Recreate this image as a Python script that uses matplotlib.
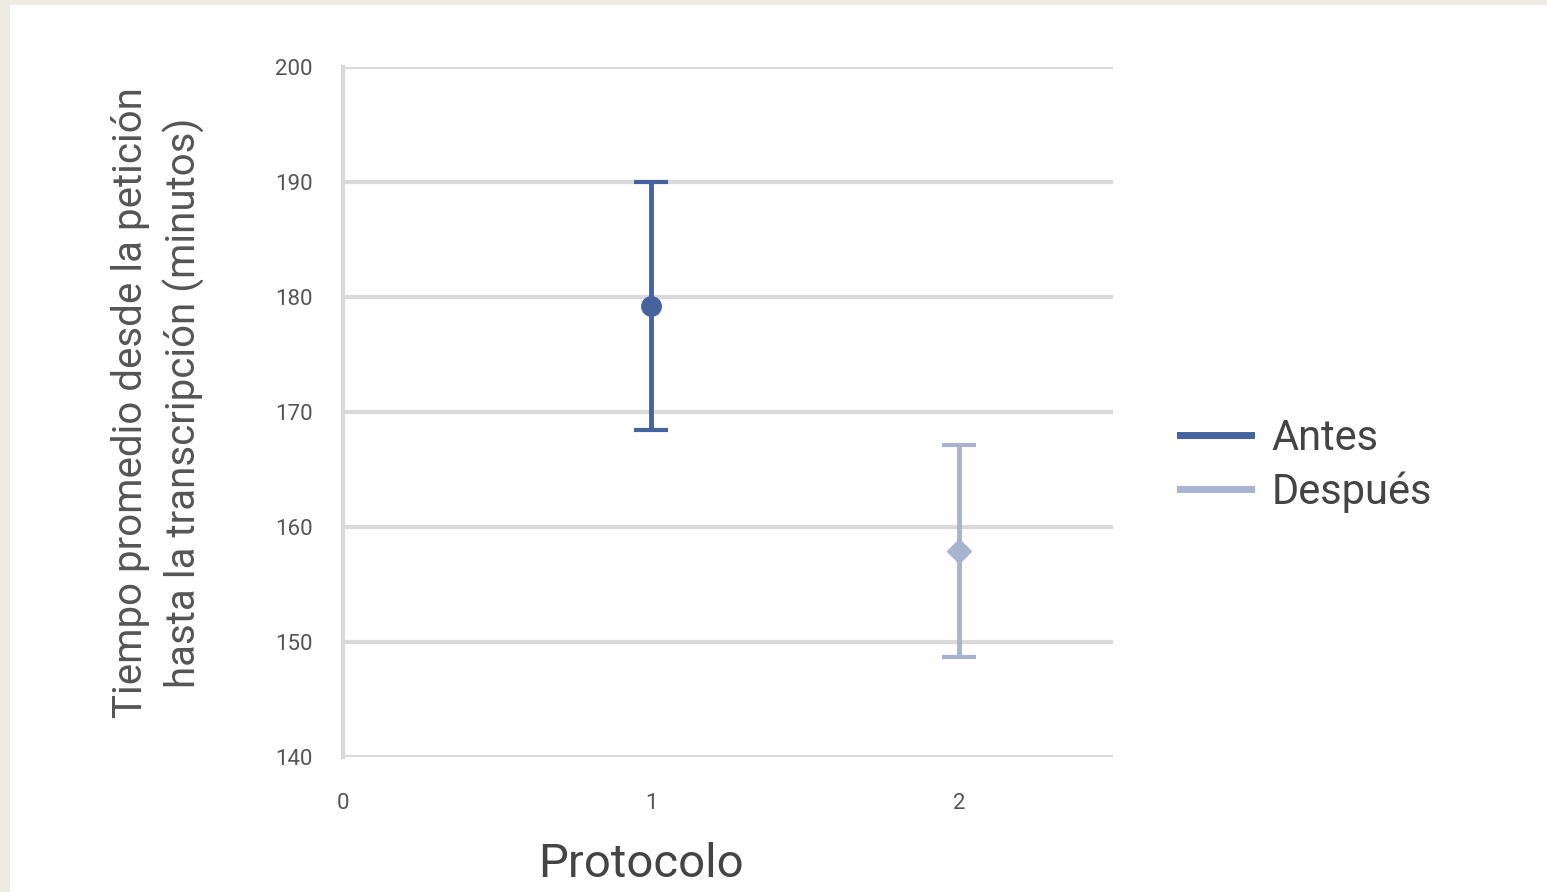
import matplotlib.pyplot as plt
from matplotlib.patches import Rectangle
from matplotlib.lines import Line2D

# Data
series = ['Antes', 'Después']
protocolo = [1, 2]
media = [179.2, 157.9]
error = [10.8, 9.2]
colores = ['#45639e', '#a7b3cf']
marcadores = ['o', 'D']

yticks = [140, 150, 160, 170, 180, 190, 200]
xticks = [0, 1, 2]

plt.rcParams['font.family'] = ['Roboto', 'DejaVu Sans']

fig = plt.figure(figsize=(15.47, 8.92), dpi=100, facecolor='#eeebe3')
fig.patches.append(Rectangle((10 / 1547, 0), 1, 1 - 5 / 892, transform=fig.transFigure,
                             facecolor='white', edgecolor='none', zorder=-10))
ax = fig.add_axes([343 / 1547, 1 - 757 / 892, (1113 - 343) / 1547, (757 - 67) / 892])
ax.set_facecolor('white')

for x, m, e, c, mk, s in zip(protocolo, media, error, colores, marcadores, series):
    ax.errorbar([x], [m], yerr=[e], fmt=mk, color=c, ecolor=c, elinewidth=3.5,
                capsize=12, capthick=3, markersize=14 if mk == 'o' else 12,
                label=s, zorder=3)

ax.set_xlim(0, 2.5)
ax.set_ylim(140, 200)
ax.set_xticks(xticks)
ax.set_yticks(yticks)
ax.grid(True, axis='y', color='#d9d9d9', linewidth=3)
ax.set_axisbelow(True)
for sp in ['top', 'right', 'bottom']:
    ax.spines[sp].set_visible(False)
ax.spines['left'].set_color('#d9d9d9')
ax.spines['left'].set_linewidth(3)
ax.tick_params(axis='y', length=0, labelsize=16, labelcolor='#555555', pad=22)
ax.tick_params(axis='x', length=0, labelsize=16, labelcolor='#555555', pad=26)

ax.set_xlabel('Protocolo', fontsize=34, color='#444444', va='center')
ax.xaxis.set_label_coords(0.387, -0.155)
ax.set_ylabel('Tiempo promedio desde la petición\nhasta la transcripción (minutos)',
              fontsize=29, color='#555555', va='center', linespacing=1.4)
ax.yaxis.set_label_coords(-0.24, 0.513)

handles = [Line2D([0], [0], color=c, linewidth=5) for c in colores]
ax.legend(handles, series, loc='upper left', bbox_to_anchor=(1.087, 0.492),
          borderaxespad=0, borderpad=0, frameon=False, fontsize=30,
          handlelength=1.7, handletextpad=0.5, labelspacing=0.3,
          labelcolor='#444444')

plt.savefig('out.png', dpi=100, facecolor=fig.get_facecolor())
